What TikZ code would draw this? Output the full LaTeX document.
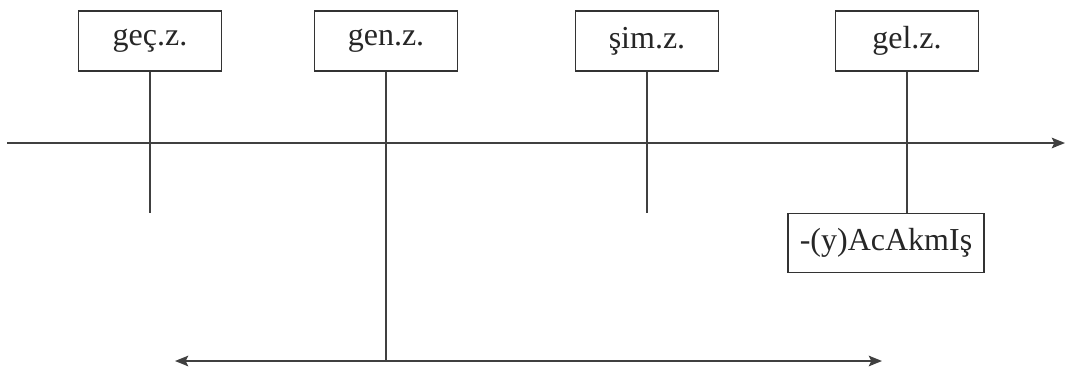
\documentclass[tikz,border=0pt]{standalone}
\usepackage{fontspec}
\setmainfont{Liberation Serif}
\usetikzlibrary{arrows.meta}
\begin{document}
\begin{tikzpicture}[x=0.75pt,y=-0.75pt,
  lbl/.style={draw=black!80,line width=1pt,minimum width=107pt,minimum height=45pt,inner sep=0pt,font=\fontsize{24pt}{28pt}\selectfont,text=black!85},
  ln/.style={draw=black!75,line width=1.2pt},
  tip/.style={-{Stealth[length=10pt,width=8pt,inset=2pt]}}]
\useasboundingbox (0,0) rectangle (1067,372);
\node[lbl] (gec) at (150,41) {geç.z.};
\node[lbl] (gen) at (386,41) {gen.z.};
\node[lbl] (sim) at (647,41) {şim.z.};
\node[lbl] (gel) at (907,41) {gel.z.};
\node[lbl,minimum width=147pt,minimum height=44pt] (ac) at (886,243) {-(y)AcAkmIş};
\coordinate (axL) at (7,143);
\coordinate (axR) at (1065,143);
\coordinate (gecE) at (150,213);
\coordinate (simE) at (647,213);
\coordinate (genE) at (386,361);
\coordinate (bL) at (175,361);
\coordinate (bR) at (882,361);
\draw[ln,tip] (axL) -- (axR);
\draw[ln] (gec.south) -- (gecE);
\draw[ln] (sim.south) -- (simE);
\draw[ln] (gen.south) -- (genE);
\draw[ln] (gel.south) -- (gel.south |- ac.north);
\draw[ln,tip] (genE) -- (bL);
\draw[ln,tip] (genE) -- (bR);
\end{tikzpicture}
\end{document}
